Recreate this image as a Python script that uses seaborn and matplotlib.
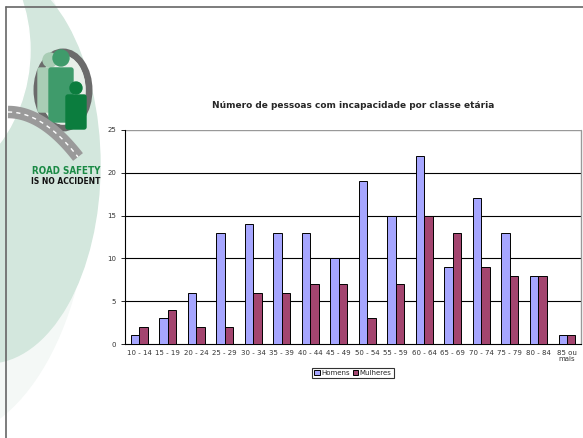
import numpy as np
import pandas as pd
import matplotlib
matplotlib.use("Agg")
import matplotlib.pyplot as plt
import seaborn as sns
from matplotlib.patches import Ellipse, Circle, FancyBboxPatch

# dados do gráfico
classes = ["10 - 14", "15 - 19", "20 - 24", "25 - 29", "30 - 34", "35 - 39",
           "40 - 44", "45 - 49", "50 - 54", "55 - 59", "60 - 64", "65 - 69",
           "70 - 74", "75 - 79", "80 - 84", "85 ou\nmais"]
homens = [1, 3, 6, 13, 14, 13, 13, 10, 19, 15, 22, 9, 17, 13, 8, 1]
mulheres = [2, 4, 2, 2, 6, 6, 7, 7, 3, 7, 15, 13, 9, 8, 8, 1]
series = ["Homens", "Mulheres"]
cores = {"Homens": "#a6a6ff", "Mulheres": "#a3456f"}

df = pd.DataFrame({"classe": classes * 2,
                   "valor": homens + mulheres,
                   "sexo": [series[0]] * len(classes) + [series[1]] * len(classes)})

sns.set_style("white")
plt.rcParams["font.family"] = ["DejaVu Sans"]

fig = plt.figure(figsize=(5.83, 4.38), dpi=100)

# fundo decorativo (slide)
bg = fig.add_axes([0, 0, 1, 1])
bg.set_xlim(0, 583)
bg.set_ylim(438, 0)
bg.axis("off")
bg.add_patch(Ellipse((-60, 175), 300, 530, color="#f4f8f6", zorder=0))
bg.add_patch(Ellipse((-12, 165), 224, 396, color="#d3e7dd", zorder=1))
bg.add_patch(Ellipse((-110, 50), 280, 300, color="white", zorder=2))
bg.plot([6, 583], [7, 7], color="#666666", lw=1.2, zorder=5)
bg.plot([6, 6], [7, 438], color="#666666", lw=1.2, zorder=5)

# logotipo aproximado
bg.add_patch(Ellipse((63, 90), 52, 76, fill=False, ec="#6b6b6b", lw=5, zorder=3))
bg.add_patch(Ellipse((63, 90), 44, 68, color="#e8efe9", zorder=3))
bg.add_patch(Circle((50, 60), 7, color="#a9cdb5", zorder=4))
bg.add_patch(FancyBboxPatch((40, 70), 18, 40, boxstyle="round,pad=2", color="#a9cdb5", zorder=4))
bg.add_patch(Circle((61, 58), 8, color="#3f9b6b", zorder=4))
bg.add_patch(FancyBboxPatch((51, 70), 20, 50, boxstyle="round,pad=2", color="#3f9b6b", zorder=4))
bg.add_patch(Circle((76, 88), 6, color="#0b7d3e", zorder=4))
bg.add_patch(FancyBboxPatch((68, 97), 16, 30, boxstyle="round,pad=2", color="#0b7d3e", zorder=4))
t = np.linspace(0, 1, 50)
bg.plot(8 + 70 * t, 112 + 45 * t ** 2, color="#9a9a9a", lw=9, solid_capstyle="butt", zorder=5)
bg.plot(8 + 70 * t, 112 + 45 * t ** 2, color="white", lw=1, ls=(0, (3, 3)), zorder=6)
bg.text(66, 171, "ROAD SAFETY", color="#1a8a45", fontsize=7, fontweight="bold",
        ha="center", va="center", fontstretch="condensed", zorder=6)
bg.text(66, 182, "IS NO ACCIDENT", color="#111111", fontsize=6, fontweight="bold",
        ha="center", va="center", fontstretch="condensed", zorder=6)

# gráfico de barras
ax = fig.add_axes([0.2144, 0.2146, 0.7822, 0.4886])
sns.barplot(data=df, x="classe", y="valor", hue="sexo", palette=cores,
            width=0.58, gap=0, edgecolor="black", linewidth=0.7,
            saturation=1, ax=ax, zorder=3)

ax.set_ylim(0, 25)
ax.set_xlim(-0.5, len(classes) - 0.5)
ax.set_yticks(range(0, 26, 5))
for y in range(5, 25, 5):
    ax.axhline(y, color="black", lw=0.8, zorder=1)
ax.axhline(25, color="#999999", lw=1, zorder=1)
for side in ["top", "right"]:
    ax.spines[side].set_visible(False)
ax.plot([1, 1], [0, 1], transform=ax.transAxes, color="#999999", lw=1, clip_on=False)
ax.spines["left"].set_color("black")
ax.spines["bottom"].set_color("black")
ax.spines["left"].set_linewidth(0.8)
ax.spines["bottom"].set_linewidth(0.8)

ax.set_xticks(range(len(classes)))
ax.set_xticklabels(classes, fontsize=5, color="#333333", linespacing=1.0)
ax.tick_params(axis="x", length=0, pad=4)
ax.set_xticks(np.arange(0.5, len(classes) - 0.5, 1), minor=True)
ax.tick_params(axis="x", which="minor", length=3, width=0.7, direction="out")
ax.tick_params(axis="y", labelsize=5, labelcolor="#333333", length=3, width=0.7,
               direction="out", left=True)
ax.set_xlabel("")
ax.set_ylabel("")

ax.set_title("Número de pessoas com incapacidade por classe etária",
             fontsize=6.5, fontweight="bold", pad=16)

ax.legend(loc="upper center", bbox_to_anchor=(0.5, -0.11), ncol=2, fontsize=5,
          frameon=True, fancybox=False, edgecolor="black", handlelength=0.8,
          handleheight=0.8, handletextpad=0.2, columnspacing=0.4,
          borderpad=0.3, borderaxespad=0)
ax.get_legend().get_frame().set_linewidth(0.8)

fig.savefig("out.png", dpi=100)
